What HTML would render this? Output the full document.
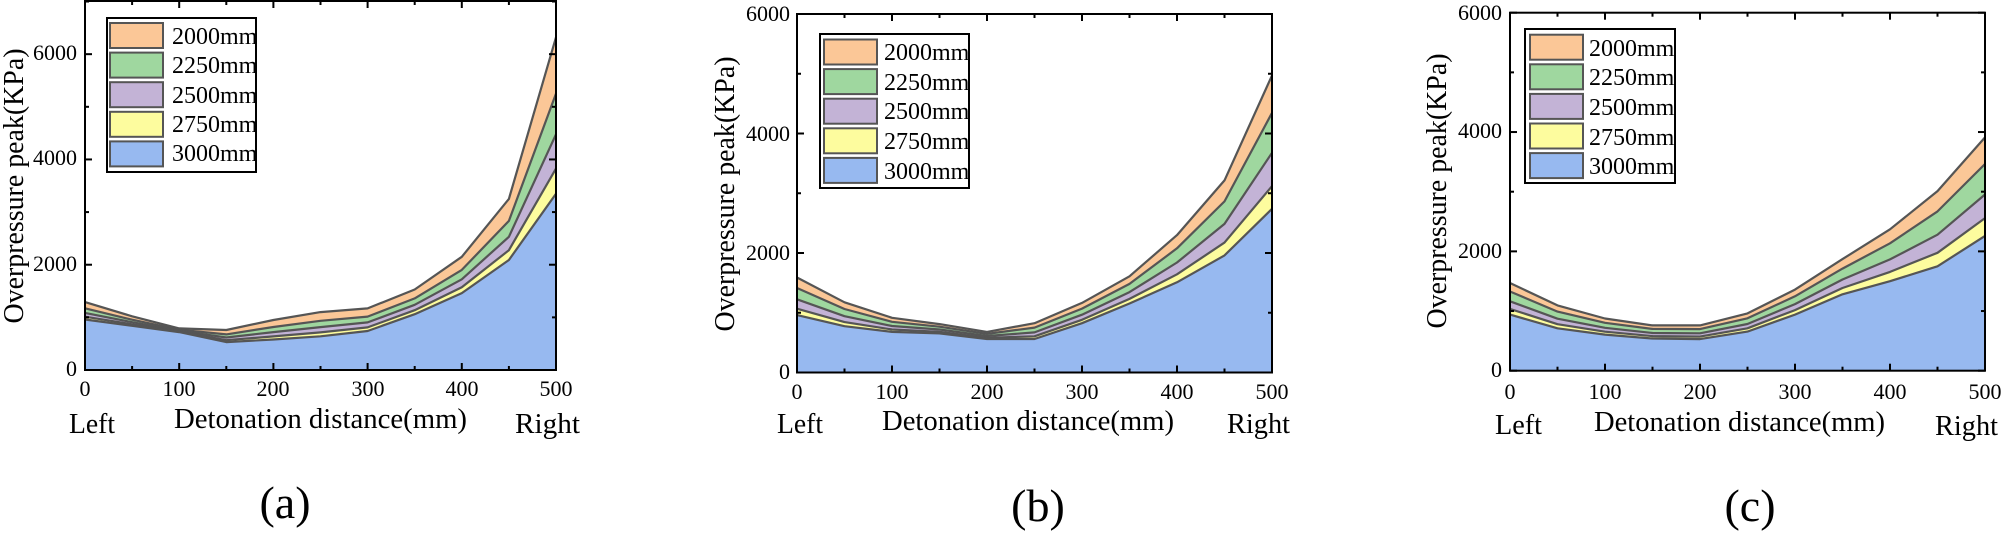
<!DOCTYPE html>
<html><head><meta charset="utf-8"><style>
html,body{margin:0;padding:0;background:#fff;}
svg{display:block;}
svg text{font-family:"Liberation Serif","Times New Roman","DejaVu Serif",serif;}
</style></head><body>
<svg id="s" width="2003" height="535" viewBox="0 0 2003 535" xmlns="http://www.w3.org/2000/svg" font-family="'Liberation Serif', 'Times New Roman', 'DejaVu Serif', serif">
<g id="plots"></g>
<g font-size="22" fill="#000">
<text x="77" y="376" text-anchor="end">0</text>
<text x="77" y="271" text-anchor="end">2000</text>
<text x="77" y="165" text-anchor="end">4000</text>
<text x="77" y="60" text-anchor="end">6000</text>
<text x="85" y="396" text-anchor="middle">0</text>
<text x="179" y="396" text-anchor="middle">100</text>
<text x="273" y="396" text-anchor="middle">200</text>
<text x="368" y="396" text-anchor="middle">300</text>
<text x="462" y="396" text-anchor="middle">400</text>
<text x="556" y="396" text-anchor="middle">500</text>
</g>
<g font-size="28" fill="#000">
<text x="69" y="433" textLength="46" lengthAdjust="spacingAndGlyphs">Left</text>
<text x="174" y="428" textLength="293" lengthAdjust="spacingAndGlyphs">Detonation distance(mm)</text>
<text x="515" y="433" textLength="65" lengthAdjust="spacingAndGlyphs">Right</text>
<text transform="translate(23,186) rotate(-90)" text-anchor="middle" textLength="275" lengthAdjust="spacingAndGlyphs">Overpressure peak(KPa)</text>
</g>
<text x="285" y="518" font-size="46" text-anchor="middle">(a)</text>
<g font-size="22" fill="#000">
<text x="790" y="379" text-anchor="end">0</text>
<text x="790" y="260" text-anchor="end">2000</text>
<text x="790" y="141" text-anchor="end">4000</text>
<text x="790" y="21" text-anchor="end">6000</text>
<text x="797" y="399" text-anchor="middle">0</text>
<text x="892" y="399" text-anchor="middle">100</text>
<text x="987" y="399" text-anchor="middle">200</text>
<text x="1082" y="399" text-anchor="middle">300</text>
<text x="1177" y="399" text-anchor="middle">400</text>
<text x="1272" y="399" text-anchor="middle">500</text>
</g>
<g font-size="28" fill="#000">
<text x="777" y="433" textLength="46" lengthAdjust="spacingAndGlyphs">Left</text>
<text x="882" y="430" textLength="292" lengthAdjust="spacingAndGlyphs">Detonation distance(mm)</text>
<text x="1227" y="433" textLength="63" lengthAdjust="spacingAndGlyphs">Right</text>
<text transform="translate(734,194) rotate(-90)" text-anchor="middle" textLength="275" lengthAdjust="spacingAndGlyphs">Overpressure peak(KPa)</text>
</g>
<text x="1038" y="521" font-size="46" text-anchor="middle">(b)</text>
<g font-size="22" fill="#000">
<text x="1502" y="377" text-anchor="end">0</text>
<text x="1502" y="258" text-anchor="end">2000</text>
<text x="1502" y="138" text-anchor="end">4000</text>
<text x="1502" y="20" text-anchor="end">6000</text>
<text x="1510" y="399" text-anchor="middle">0</text>
<text x="1605" y="399" text-anchor="middle">100</text>
<text x="1700" y="399" text-anchor="middle">200</text>
<text x="1795" y="399" text-anchor="middle">300</text>
<text x="1890" y="399" text-anchor="middle">400</text>
<text x="1985" y="399" text-anchor="middle">500</text>
</g>
<g font-size="28" fill="#000">
<text x="1495" y="434" textLength="47" lengthAdjust="spacingAndGlyphs">Left</text>
<text x="1594" y="431" textLength="291" lengthAdjust="spacingAndGlyphs">Detonation distance(mm)</text>
<text x="1935" y="435" textLength="63" lengthAdjust="spacingAndGlyphs">Right</text>
<text transform="translate(1446,191) rotate(-90)" text-anchor="middle" textLength="275" lengthAdjust="spacingAndGlyphs">Overpressure peak(KPa)</text>
</g>
<text x="1750" y="521" font-size="46" text-anchor="middle">(c)</text>
<g id="lega"><rect x="107" y="18" width="149" height="154" fill="#fff" stroke="#000" stroke-width="2"/>
<g font-size="24"><text x="172" y="44">2000mm</text><text x="172" y="73">2250mm</text><text x="172" y="103">2500mm</text><text x="172" y="132">2750mm</text><text x="172" y="161">3000mm</text></g></g>
<g id="legb"><rect x="820" y="34" width="149" height="154" fill="#fff" stroke="#000" stroke-width="2"/>
<g font-size="24"><text x="884" y="60">2000mm</text><text x="884" y="90">2250mm</text><text x="884" y="119">2500mm</text><text x="884" y="149">2750mm</text><text x="884" y="179">3000mm</text></g></g>
<g id="legc"><rect x="1525" y="29" width="150" height="154" fill="#fff" stroke="#000" stroke-width="2"/>
<g font-size="24"><text x="1589" y="56">2000mm</text><text x="1589" y="85">2250mm</text><text x="1589" y="115">2500mm</text><text x="1589" y="145">2750mm</text><text x="1589" y="174">3000mm</text></g></g>
</svg>
<script>
var NS="http://www.w3.org/2000/svg";
var cols=["#fbc797","#9fd79f","#c3b3d6","#fdfc9e","#97b9f0"];
function el(p,t,a){var e=document.createElementNS(NS,t);for(var k in a)e.setAttribute(k,a[k]);p.appendChild(e);return e;}
var g=document.getElementById("plots");
var charts=[
 {L:85,R:556,T:1,B:370,ymax:7010,fr:[.16,.38,.64],
  blue:[960,840,720,530,580,640,740,1060,1460,2090,3350],
  tot:[1290,1020,790,760,950,1100,1170,1530,2150,3250,6320]},
 {L:797,R:1272,T:14,B:372.5,ymax:6000,fr:[.17,.42,.72],
  blue:[960,775,680,655,560,560,825,1155,1510,1960,2740],
  tot:[1590,1175,915,810,680,825,1165,1610,2300,3215,4970]},
 {L:1510,R:1985,T:12.7,B:370.7,ymax:6000,fr:[.18,.42,.73],
  blue:[940,710,605,540,530,655,940,1280,1500,1750,2260],
  tot:[1470,1095,875,760,760,960,1360,1870,2370,3010,3910]}
];
charts.forEach(function(c){
 var sx=function(v){return c.L+(c.R-c.L)*v/500;};
 var sy=function(v){return c.B-(c.B-c.T)*v/c.ymax;};
 var layers=[c.tot];
 for(var j=2;j>=0;j--){layers.push(c.blue.map(function(b,i){return b+(c.tot[i]-b)*c.fr[j];}));}
 layers.push(c.blue);
 layers.forEach(function(L,k){
  var pts=[];L.forEach(function(v,i){pts.push(sx(i*50).toFixed(1)+","+sy(v).toFixed(1));});
  var poly=pts.slice();poly.push(sx(500)+","+c.B);poly.push(sx(0)+","+c.B);
  el(g,"polygon",{points:poly.join(" "),fill:cols[k],stroke:"none"});
 });
 layers.forEach(function(L){
  var pts=[];L.forEach(function(v,i){pts.push(sx(i*50).toFixed(1)+","+sy(v).toFixed(1));});
  el(g,"polyline",{points:pts.join(" "),fill:"none",stroke:"#555","stroke-width":2.2,"stroke-linejoin":"round"});
 });
 el(g,"rect",{x:c.L,y:c.T,width:c.R-c.L,height:c.B-c.T,fill:"none",stroke:"#000","stroke-width":2});
 for(var i=0;i<=10;i++){var x=sx(i*50),len=(i%2==0)?7:4;
  el(g,"line",{x1:x,y1:c.B,x2:x,y2:c.B-len,stroke:"#000","stroke-width":2});
  el(g,"line",{x1:x,y1:c.T,x2:x,y2:c.T+len,stroke:"#000","stroke-width":2});}
 for(var v=0;v<=c.ymax;v+=1000){var y=sy(v),len=(v%2000==0)?7:4;
  el(g,"line",{x1:c.L,y1:y,x2:c.L+len,y2:y,stroke:"#000","stroke-width":2});
  el(g,"line",{x1:c.R,y1:y,x2:c.R-len,y2:y,stroke:"#000","stroke-width":2});}
});
[["lega",110,23],["legb",824,39.5],["legc",1530,34.7]].forEach(function(l){
 var p=document.getElementById(l[0]);
 for(var k=0;k<5;k++){el(p,"rect",{x:l[1],y:l[2]+k*29.6,width:53,height:25,fill:cols[k],stroke:"#555","stroke-width":2});}
});
</script>
</body></html>
